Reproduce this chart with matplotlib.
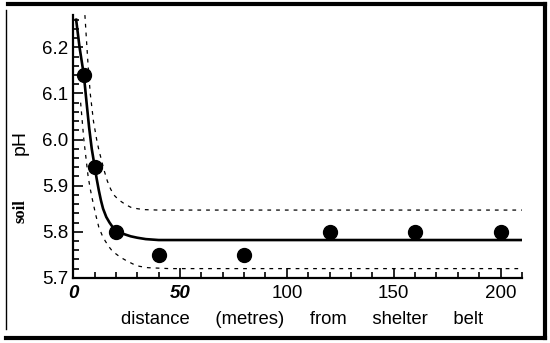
import numpy as np
import matplotlib.pyplot as plt
from matplotlib.lines import Line2D
from matplotlib.ticker import MultipleLocator

# measured points
dist = [5, 10, 20, 40, 80, 120, 160, 200]
ph = [6.14, 5.94, 5.80, 5.75, 5.75, 5.80, 5.80, 5.80]

# fitted curve
fit_x = [1.4, 3, 5, 6.5, 7.5, 8.7, 10.3, 11, 12, 13, 14, 15.5, 17, 18.5,
         20.5, 22.5, 25, 27, 30, 34, 40, 210]
fit_y = [6.26, 6.20, 6.14, 6.07, 6.025, 5.98, 5.935, 5.915, 5.89, 5.868,
         5.85, 5.832, 5.82, 5.81, 5.802, 5.797, 5.793, 5.79, 5.787, 5.784,
         5.782, 5.782]

# confidence band
upper_x = [5.5, 7, 8, 9.5, 11, 12, 13, 14.5, 16, 17.5, 19, 20.5, 22, 24.5,
           27, 30, 33, 40, 210]
upper_y = [6.27, 6.16, 6.10, 6.04, 6.00, 5.978, 5.96, 5.933, 5.91, 5.893,
           5.88, 5.873, 5.867, 5.859, 5.853, 5.85, 5.848, 5.847, 5.847]
lower_x = [3.5, 5, 6, 7, 8, 9, 10.5, 12, 13.5, 15, 16.5, 18, 20, 22, 25,
           28, 31, 35, 45, 210]
lower_y = [6.08, 6.00, 5.96, 5.92, 5.893, 5.87, 5.838, 5.81, 5.793, 5.78,
           5.769, 5.76, 5.752, 5.745, 5.737, 5.73, 5.725, 5.722, 5.72, 5.72]

plt.rcParams['font.family'] = ['Liberation Sans', 'DejaVu Sans']

fig = plt.figure(figsize=(5.5, 3.43), dpi=100)
ax = fig.add_axes([0.133, 0.19, 0.816, 0.766])

ax.plot(fit_x, fit_y, color='black', lw=1.9)
ax.plot(upper_x, upper_y, color='black', lw=0.9, dashes=(3, 4))
ax.plot(lower_x, lower_y, color='black', lw=0.9, dashes=(3, 4))
ax.plot(dist, ph, 'o', color='black', ms=10)

ax.set_xlim(0, 210)
ax.set_ylim(5.7, 6.27)
ax.xaxis.set_major_locator(MultipleLocator(50))
ax.xaxis.set_minor_locator(MultipleLocator(10))
ax.yaxis.set_major_locator(MultipleLocator(0.1))
ax.yaxis.set_minor_locator(MultipleLocator(0.02))
ax.tick_params(which='both', direction='in', width=1.2, labelsize=13.5)
ax.tick_params(which='major', length=7)
ax.tick_params(which='minor', length=4)
ax.tick_params(axis='x', pad=5)
ax.set_yticks([5.7, 5.8, 5.9, 6.0, 6.1, 6.2])
ax.set_yticklabels(['5.7', '5.8', '5.9', '6.0', '6.1', '6.2'])
ax.set_xticks([0, 50, 100, 150, 200])
ax.set_xticklabels(['0', '50', '100', '150', '200'])
for lab in ax.get_xticklabels()[:2]:
    lab.set_fontweight('bold')
    lab.set_fontstyle('italic')

for s in ['top', 'right']:
    ax.spines[s].set_visible(False)
for s in ['left', 'bottom']:
    ax.spines[s].set_linewidth(1.6)

ax.set_xlabel('distance     (metres)     from     shelter     belt',
              fontsize=13.3)
ax.xaxis.set_label_coords(0.51, -0.125)

fig.text(0.037, 0.585, 'pH', rotation=90, fontsize=14, ha='center', va='center')
fig.text(0.038, 0.385, 'soil', rotation=90, fontsize=12, ha='center', va='center',
         family='Liberation Serif', fontweight='bold')

# outer box of the scanned figure
fig.add_artist(Line2D([0.015, 0.99], [0.988, 0.988], color='black', lw=3))
fig.add_artist(Line2D([0.99, 0.99], [0.988, 0.015], color='black', lw=3))
fig.add_artist(Line2D([0.01, 0.99], [0.015, 0.015], color='black', lw=3))
fig.add_artist(Line2D([0.011, 0.011], [0.04, 0.97], color='black', lw=1))

fig.savefig('out.png', dpi=100)
